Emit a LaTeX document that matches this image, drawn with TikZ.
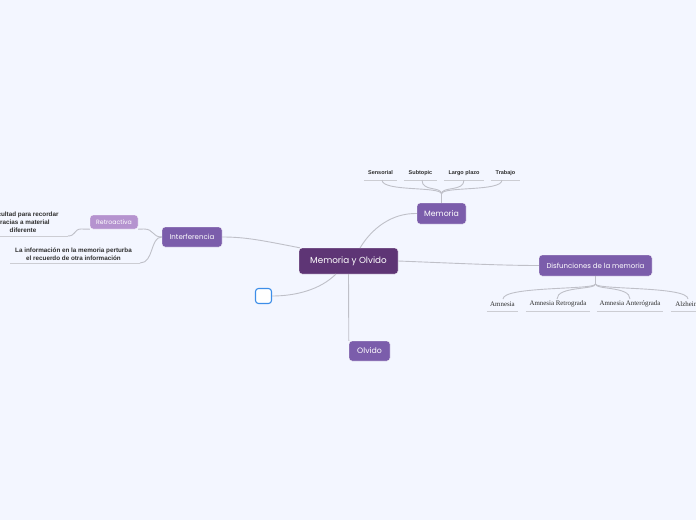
\documentclass[tikz,border=0pt]{standalone}
\usepackage{fontspec}
\setmainfont{Poppins}
\newfontfamily\leaffont{Liberation Sans}
\newfontfamily\serleaf{Liberation Serif}
\definecolor{bgc}{HTML}{F3F6FF}
\definecolor{cdark}{HTML}{5E3575}
\definecolor{cmid}{HTML}{7B5DAB}
\definecolor{clight}{HTML}{B593CF}
\definecolor{linec}{HTML}{BFC0C8}
\definecolor{txt}{HTML}{2E2E2E}
\definecolor{bluec}{HTML}{3D8EE8}
\tikzset{
  topic/.style={rounded corners=3pt, text=white, inner sep=0pt, draw=white, line width=0.4pt},
  leaf/.style={inner sep=0pt, text=txt, font=\leaffont\bfseries\fontsize{5.5}{7.5}\selectfont, align=center},
  bleaf/.style={leaf, font=\leaffont\bfseries\fontsize{6.3}{8}\selectfont},
  sleaf/.style={inner sep=0pt, text=txt, font=\serleaf\fontsize{6.9}{8}\selectfont},
  conn/.style={draw=linec, line width=0.9pt},
  uline/.style={draw=linec!80, line width=0.7pt}
}
\begin{document}
\begin{tikzpicture}[x=1pt,y=-1pt]
\fill[bgc] (0,0) rectangle (696,520);
\useasboundingbox (0,0) rectangle (696,520);
\clip (0,0) rectangle (696,520);

% main nodes
\node[topic, fill=cdark, minimum width=99pt, minimum height=26pt, font=\fontsize{8.8}{10}\selectfont] (c) at (348.5,261) {Memoria y Olvido};
\node[topic, fill=cmid, minimum width=49pt, minimum height=21pt, font=\fontsize{7.8}{9}\selectfont] (mem) at (441.5,213.5) {Memoria};
\node[topic, fill=cmid, minimum width=113pt, minimum height=21pt, font=\fontsize{7}{9}\selectfont] (dis) at (595.5,265.5) {Disfunciones de la memoria};
\node[topic, fill=cmid, minimum width=60pt, minimum height=20pt, font=\fontsize{7}{9}\selectfont] (int) at (192,237) {Interferencia};
\node[topic, fill=clight, minimum width=48pt, minimum height=14pt, font=\fontsize{6.2}{8}\selectfont] (ret) at (114,222) {Retroactiva};
\node[topic, fill=cmid, minimum width=41pt, minimum height=20pt, font=\fontsize{7.8}{9}\selectfont] (olv) at (369.5,351) {Olvido};
\node[rounded corners=3pt, fill=white, draw=bluec, line width=1.1pt, minimum width=16pt, minimum height=15pt, inner sep=0pt] (emp) at (263.5,296) {};

% Memoria leaves
\node[leaf, minimum width=33pt, minimum height=14pt] (s1) at (380.5,173) {Sensorial};
\node[leaf, minimum width=33pt, minimum height=14pt] (s2) at (420.5,173) {Subtopic};
\node[leaf, minimum width=40pt, minimum height=14pt] (s3) at (464,173) {Largo plazo};
\node[leaf, minimum width=29pt, minimum height=14pt] (s4) at (505.5,173) {Trabajo};
\foreach \n in {s1,s2,s3,s4} \draw[uline] (\n.south west) -- (\n.south east);
\coordinate (mj) at (441.5,194);
\draw[conn] (mem.north) -- (mj);
\draw[conn] (mj) .. controls (441.5,186) and (382,192) .. (382,180);
\draw[conn] (mj) .. controls (441.5,186) and (422,192) .. (422,180);
\draw[conn] (mj) .. controls (441.5,186) and (464,192) .. (464,180);
\draw[conn] (mj) .. controls (441.5,186) and (502,192) .. (502,180);

% Disfunciones leaves
\node[sleaf, minimum width=31pt, minimum height=14pt] (d1) at (502.5,304) {Amnesia};
\node[sleaf, minimum width=64pt, minimum height=14pt] (d2) at (558,304) {Amnesia Retrograda};
\node[sleaf, minimum width=66pt, minimum height=14pt] (d3) at (630,304) {Amnesia Anterógrada};
\node[sleaf, minimum width=38pt, minimum height=14pt] (d4) at (690,304) {Alzheimer};
\foreach \n in {d1,d2,d3,d4} \draw[uline] (\n.south west) -- (\n.south east);
\coordinate (dj) at (595.5,284);
\draw[conn] (dis.south) -- (dj);
\draw[conn] (dj) .. controls (595.5,290) and (503,286) .. (503,299);
\draw[conn] (dj) .. controls (595.5,290) and (557,286) .. (557,299);
\draw[conn] (dj) .. controls (595.5,290) and (630,286) .. (630,299);
\draw[conn] (dj) .. controls (595.5,290) and (688,286) .. (688,299);

% Interferencia leaves
\node[bleaf, minimum height=24pt] (l1) at (23,222.5) {Dificultad para recordar\\gracias a material\\diferente};
\node[bleaf, minimum height=16pt] (l2) at (73.5,254) {La información en la memoria perturba\\el recuerdo de otra información};
\coordinate (l1e) at (68,236);
\coordinate (l2e) at (140,263);
\draw[uline] (-25,236) -- (l1e);
\draw[uline] (10,263) -- (l2e);
\draw[conn] (int.west) .. controls (152,237) and (154,229) .. (144,229) -- (ret.south east);
\draw[conn] (ret.south west) -- (81,229) .. controls (74,229) and (76,236) .. (l1e);
\draw[conn] (int.west) .. controls (150,237) and (154,263) .. (l2e);

% central connectors
\draw[conn] (c.north west) ++(1,0) .. controls (260,240) and (245,237) .. (int.east);
\draw[conn] (360,248) .. controls (372,228) and (392,213) .. (mem.west);
\draw[conn] (c.east) .. controls (450,263) and (500,265.5) .. (dis.west);
\draw[conn] (336,274) .. controls (320,290) and (295,296) .. (emp.east);
\draw[conn] (c.south) -- (olv.north west);
\end{tikzpicture}
\end{document}
